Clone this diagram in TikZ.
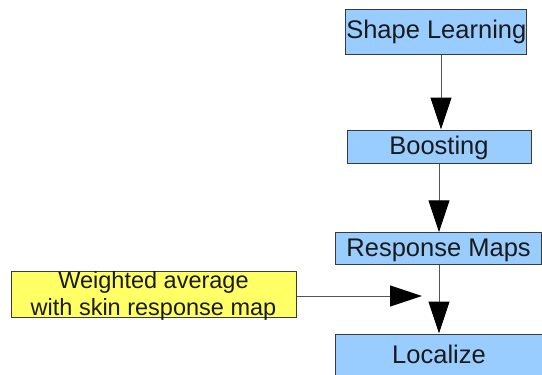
\documentclass[tikz,border=0pt]{standalone}
\usepackage{fontspec}
\setmainfont{Liberation Sans}
\usetikzlibrary{arrows.meta}
\definecolor{boxblue}{HTML}{99CCFF}
\definecolor{boxyellow}{HTML}{FFFF66}
\definecolor{edgegray}{HTML}{3A3A3A}
\definecolor{linegray}{HTML}{555555}
\definecolor{txt}{HTML}{1A1A1A}
\begin{document}
\begin{tikzpicture}[x=1pt,y=-1pt,
  bluebox/.style={draw=edgegray, fill=boxblue, line width=1pt, inner sep=0pt, text=txt,
    font=\fontsize{25.5}{28}\selectfont},
  yellowbox/.style={draw=edgegray, fill=boxyellow, line width=1pt, inner sep=0pt, text=txt,
    align=center, font=\fontsize{23.5}{27}\selectfont},
  flow/.style={draw=linegray, line width=1pt,
    -{Triangle[length=32pt,width=21pt,fill=black,color=black]}}]
\useasboundingbox (0,0) rectangle (542,375);
\clip (0,0) rectangle (542,375);
\fill[white] (0,0) rectangle (542,375);
\node[bluebox, minimum width=180.7pt, text height=29.3pt, text depth=16.2pt] (sl) at (436.3,31.8) {Shape Learning};
\node[bluebox, minimum width=184pt, text height=24.3pt, text depth=8.7pt] (bo) at (439,146.5) {Boosting};
\node[bluebox, minimum width=205.8pt, text height=23.3pt, text depth=8.2pt] (rm) at (438.6,248.5) {Response Maps};
\node[bluebox, minimum width=206.6pt, text height=29.3pt, text depth=14.7pt] (lo) at (439,356) {Localize};
\node[yellowbox, minimum width=285pt, text height=44pt, text depth=2pt] (wa) at (153.5,294) {Weighted average\\with skin response map};
\coordinate (mid) at (422,296);
\draw[flow] (sl.south -| 441,0) -- (bo.north -| 441,0);
\draw[flow] (bo.south) -- (bo.south |- rm.north);
\draw[flow] (rm.south -| bo.south) -- (lo.north -| bo.south);
\draw[flow] (wa.east |- mid) -- (mid);
\end{tikzpicture}
\end{document}
